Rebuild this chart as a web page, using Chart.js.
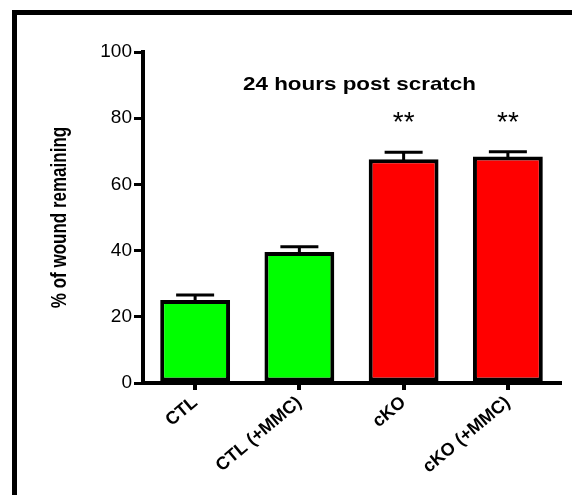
<!DOCTYPE html>
<html>
<head>
<meta charset="utf-8">
<script src="https://cdn.jsdelivr.net/npm/chart.js@4"></script>
<style>
  html, body { margin: 0; padding: 0; background: #fff; overflow: hidden; }
  #wrap { position: relative; width: 572px; height: 495px; }
  #frame {
    position: absolute; left: 12px; top: 10px;
    width: 700px; height: 700px;
    border: 5px solid #000; pointer-events: none;
  }
  canvas { position: absolute; left: 0; top: 0; }
</style>
</head>
<body>
<div id="wrap">
  <canvas id="c" width="572" height="495"></canvas>
  <div id="frame"></div>
</div>
<script>
// Wound closure, 24 h after scratch
const groups = ['CTL', 'CTL (+MMC)', 'cKO', 'cKO (+MMC)'];
const woundRemaining = [25.1, 39.6, 67.6, 68.4];
const woundSem = [1.5, 1.6, 2.1, 1.5];
const significance = ['', '', '**', '**'];
const barColors = ['#00ff00', '#00ff00', '#ff0000', '#ff0000'];
const yTicks = [0, 20, 40, 60, 80, 100];
const chartTitle = '24 hours post scratch';
const yTitle = '% of wound remaining';

const FONT = "'Liberation Sans', Arial, Helvetica, sans-serif";

// SEM whiskers (upper only), significance stars, in-plot title and y-axis caption
const extras = {
  id: 'extras',
  afterDatasetsDraw(chart) {
    const ctx = chart.ctx;
    const xs = chart.scales.x, ys = chart.scales.y;
    ctx.save();
    ctx.strokeStyle = '#000';
    ctx.lineWidth = 3;
    ctx.lineCap = 'butt';
    woundRemaining.forEach((v, i) => {
      const x = xs.getPixelForValue(i);
      const yTop = ys.getPixelForValue(v) + 2;
      const yErr = ys.getPixelForValue(v + woundSem[i]);
      ctx.beginPath();
      ctx.moveTo(x, yTop);
      ctx.lineTo(x, yErr);
      ctx.moveTo(x - 19, yErr);
      ctx.lineTo(x + 19, yErr);
      ctx.stroke();
      if (significance[i]) {
        ctx.fillStyle = '#000';
        ctx.font = '28px ' + FONT;
        ctx.textAlign = 'center';
        ctx.textBaseline = 'alphabetic';
        ctx.fillText(significance[i], x, yErr - 21);
      }
    });

    const a = chart.chartArea;
    // title, drawn slightly wide
    ctx.save();
    ctx.translate((a.left + a.right) / 2 + 8, ys.getPixelForValue(90));
    ctx.scale(1.18, 1);
    ctx.fillStyle = '#000';
    ctx.font = 'bold 19px ' + FONT;
    ctx.textAlign = 'center';
    ctx.textBaseline = 'middle';
    ctx.fillText(chartTitle, 0, 0);
    ctx.restore();

    // y-axis caption, rotated
    ctx.save();
    ctx.translate(60, (a.top + a.bottom) / 2);
    ctx.rotate(-Math.PI / 2);
    ctx.scale(1, 1.25);
    ctx.fillStyle = '#000';
    ctx.font = 'bold 17px ' + FONT;
    ctx.textAlign = 'center';
    ctx.textBaseline = 'middle';
    ctx.fillText(yTitle, 0, 0);
    ctx.restore();

    ctx.restore();
  }
};

new Chart(document.getElementById('c'), {
  type: 'bar',
  data: {
    labels: groups,
    datasets: [{
      data: woundRemaining,
      backgroundColor: barColors,
      borderColor: '#000',
      borderWidth: 4,
      borderSkipped: false,
      barPercentage: 0.67,
      categoryPercentage: 1.0
    }]
  },
  options: {
    responsive: false,
    animation: false,
    devicePixelRatio: 1,
    layout: { padding: { left: 49, top: 52, right: 12, bottom: 0 } },
    plugins: { legend: { display: false }, tooltip: { enabled: false }, title: { display: false } },
    scales: {
      x: {
        afterFit(scale) { scale.height = 112; },
        grid: {
          offset: false, drawOnChartArea: false, drawTicks: true,
          tickLength: 7, color: '#000', lineWidth: 4
        },
        border: { display: true, color: '#000', width: 4 },
        ticks: {
          color: '#000', minRotation: 40, maxRotation: 40, padding: 2,
          font: { family: FONT, size: 18, weight: 'bold' }
        }
      },
      y: {
        min: 0, max: 100,
        afterFit(scale) { scale.width = 94; },
        afterBuildTicks(scale) { scale.ticks = yTicks.map(v => ({ value: v })); },
        grid: {
          drawOnChartArea: false, drawTicks: true,
          tickLength: 9, color: '#000', lineWidth: 3
        },
        border: { display: true, color: '#000', width: 4 },
        ticks: {
          color: '#000', padding: 2,
          font: { family: FONT, size: 19 }
        }
      }
    }
  },
  plugins: [extras]
});
</script>
</body>
</html>
